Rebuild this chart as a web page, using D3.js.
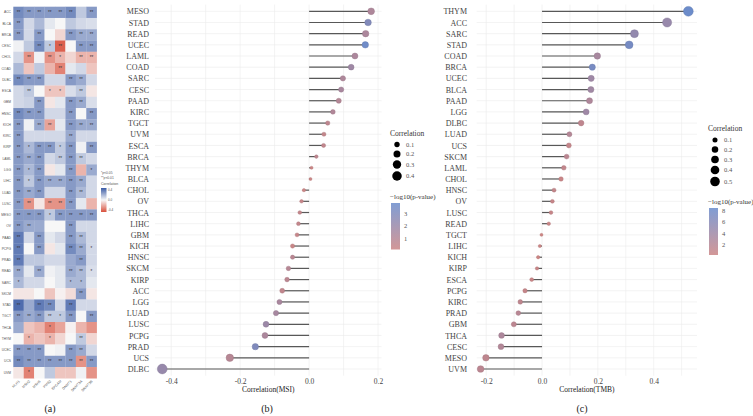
<!DOCTYPE html>
<html>
<head>
<meta charset="utf-8">
<script src="https://cdn.jsdelivr.net/npm/d3@7"></script>
<style>
  body { margin: 0; background: #fff; }
  svg { display: block; }
</style>
</head>
<body>
<svg id="chart" width="753" height="416"></svg>
<script>
// ---- Panel (a): heatmap data ----
const heatRows = ['ACC', 'BLCA', 'BRCA', 'CESC', 'CHOL', 'COAD', 'DLBC', 'ESCA', 'GBM', 'HNSC', 'KICH',
    'KIRC', 'KIRP', 'LAML', 'LGG', 'LIHC', 'LUAD', 'LUSC', 'MESO', 'OV', 'PAAD', 'PCPG', 'PRAD',
    'READ', 'SARC', 'SKCM', 'STAD', 'TGCT', 'THCA', 'THYM', 'UCEC', 'UCS', 'UVM'];
const heatCols = ['MLH1', 'MSH2', 'MSH6', 'PMS2', 'EPCAM', 'DNMT1', 'DNMT3A', 'DNMT3B'];
const heatValues = [
    [0.35, 0.3, 0.3, 0.3, 0.3, 0.35, 0.15, 0.3],
    [0.3, 0.1, 0.2, 0.05, 0.0, 0.15, 0.1, 0.08],
    [0.3, 0.1, 0.3, 0.0, -0.1, 0.3, 0.25, 0.25],
    [0.02, 0.15, 0.35, 0.15, -0.45, 0.0, 0.3, 0.3],
    [0.1, -0.3, 0.02, -0.3, -0.2, -0.1, -0.2, -0.2],
    [0.2, -0.15, 0.15, -0.2, -0.35, 0.05, 0.1, -0.15],
    [0.35, 0.3, 0.3, 0.1, 0.1, 0.3, 0.25, 0.1],
    [0.1, 0.15, 0.0, -0.15, -0.15, 0.08, 0.15, -0.05],
    [0.1, 0.12, 0.3, -0.05, 0.05, 0.3, 0.25, 0.08],
    [0.35, 0.3, 0.3, 0.1, 0.1, 0.3, 0.0, 0.3],
    [0.3, 0.02, 0.25, -0.25, 0.05, 0.3, 0.25, 0.25],
    [0.3, 0.1, 0.1, 0.1, 0.1, 0.25, 0.1, 0.1],
    [0.3, 0.2, 0.3, 0.3, 0.15, 0.3, 0.02, 0.3],
    [0.3, 0.25, 0.3, 0.1, 0.15, 0.3, 0.15, 0.1],
    [0.3, 0.2, 0.3, -0.05, 0.05, 0.3, -0.2, 0.25],
    [0.3, 0.15, 0.3, 0.25, 0.25, 0.3, 0.25, 0.1],
    [0.3, 0.25, 0.3, 0.1, 0.1, 0.3, 0.2, 0.1],
    [0.3, -0.3, -0.05, -0.3, -0.3, 0.3, 0.05, -0.2],
    [0.3, 0.3, 0.3, 0.15, 0.3, 0.3, 0.3, 0.3],
    [0.3, 0.25, 0.25, 0.0, 0.0, 0.3, 0.1, 0.1],
    [0.4, 0.1, 0.3, 0.05, 0.1, 0.3, 0.2, 0.1],
    [0.4, 0.0, 0.3, -0.05, 0.05, 0.35, 0.25, 0.1],
    [0.4, 0.15, 0.15, 0.1, 0.1, 0.25, 0.3, 0.1],
    [0.25, 0.05, 0.25, 0.02, 0.05, 0.25, 0.2, 0.08],
    [0.2, 0.1, 0.1, 0.0, 0.05, 0.2, 0.2, 0.05],
    [-0.05, -0.05, 0.0, -0.15, -0.02, -0.08, 0.3, -0.05],
    [0.45, 0.25, 0.4, 0.35, 0.1, 0.4, 0.1, 0.1],
    [0.3, 0.25, 0.3, 0.15, 0.15, 0.3, 0.0, 0.3],
    [0.25, -0.15, -0.2, -0.35, -0.25, -0.02, -0.2, -0.3],
    [0.0, -0.2, -0.15, -0.2, -0.1, 0.0, 0.15, -0.1],
    [0.3, 0.3, 0.3, 0.0, 0.02, 0.3, 0.25, 0.1],
    [0.35, 0.3, 0.3, 0.3, 0.3, 0.3, -0.3, 0.3],
    [-0.05, -0.35, 0.0, 0.15, -0.15, -0.15, 0.02, -0.3]
];
const heatSig = [
    ['**', '**', '**', '**', '**', '**', '', '**'],
    ['**', '', '', '', '', '', '', ''],
    ['**', '', '**', '', '', '**', '**', '**'],
    ['', '', '**', '*', '**', '', '**', '**'],
    ['', '**', '', '**', '*', '', '**', '**'],
    ['', '', '', '', '**', '', '', ''],
    ['**', '**', '**', '', '', '**', '**', ''],
    ['', '**', '', '*', '*', '', '**', ''],
    ['', '', '**', '', '', '**', '**', ''],
    ['**', '**', '**', '', '', '**', '', '**'],
    ['**', '', '**', '**', '', '**', '**', '**'],
    ['**', '', '', '', '', '**', '', ''],
    ['**', '*', '**', '**', '*', '**', '', '**'],
    ['**', '**', '**', '', '**', '**', '**', ''],
    ['**', '*', '**', '', '', '**', '', '*'],
    ['**', '*', '**', '**', '**', '**', '**', ''],
    ['**', '**', '**', '', '', '**', '**', ''],
    ['**', '**', '', '**', '**', '**', '', ''],
    ['**', '**', '**', '*', '**', '**', '**', '**'],
    ['**', '**', '', '', '', '**', '', ''],
    ['**', '', '**', '', '', '**', '**', ''],
    ['**', '', '**', '', '', '**', '**', '*'],
    ['**', '', '', '', '', '', '**', ''],
    ['**', '', '**', '', '', '**', '**', '*'],
    ['*', '', '', '', '', '*', '*', ''],
    ['', '', '', '', '', '', '**', ''],
    ['**', '', '**', '**', '', '**', '', ''],
    ['**', '**', '**', '**', '*', '**', '', '**'],
    ['', '', '', '*', '', '', '', ''],
    ['', '*', '', '*', '', '', '**', ''],
    ['**', '**', '**', '', '', '**', '**', ''],
    ['**', '**', '**', '**', '**', '**', '**', '**'],
    ['', '*', '', '', '', '', '', '']
];
const heatLegendTicks = [0.4, 0.0, -0.4];

// ---- Panel (b): correlation with MSI ----
const msiCancers = ['MESO', 'STAD', 'READ', 'UCEC', 'LAML', 'COAD', 'SARC', 'CESC', 'PAAD', 'KIRC', 'TGCT',
    'UVM', 'ESCA', 'BRCA', 'THYM', 'BLCA', 'CHOL', 'OV', 'THCA', 'LIHC', 'GBM', 'KICH', 'HNSC', 'SKCM',
    'KIRP', 'ACC', 'LGG', 'LUAD', 'LUSC', 'PCPG', 'PRAD', 'UCS', 'DLBC'];
const msiCor = [0.180, 0.171, 0.164, 0.163, 0.133, 0.122, 0.098, 0.093, 0.086, 0.069, 0.054,
    0.043, 0.042, 0.021, 0.007, 0.004, -0.015, -0.022, -0.027, -0.031, -0.035, -0.048, -0.048, -0.060,
    -0.064, -0.078, -0.086, -0.096, -0.125, -0.128, -0.156, -0.230, -0.426];
const msiLogP = [1.2, 2.9, 1.3, 3.6, 1.3, 1.8, 1.2, 1.4, 1.0, 1.1, 0.6,
    0.4, 0.5, 0.6, 0.1, 0.1, 0.1, 0.3, 0.4, 0.4, 0.3, 0.2, 0.8, 0.9,
    0.7, 0.5, 1.4, 1.5, 1.9, 1.3, 3.0, 0.9, 2.1];
const msiTicks = [-0.4, -0.2, 0.0, 0.2];
const msiSizeLegend = [0.1, 0.2, 0.3, 0.4];
const msiColorLegend = [1, 2, 3];

// ---- Panel (c): correlation with TMB ----
const tmbCancers = ['THYM', 'ACC', 'SARC', 'STAD', 'COAD', 'BRCA', 'UCEC', 'BLCA', 'PAAD', 'LGG', 'DLBC',
    'LUAD', 'UCS', 'SKCM', 'LAML', 'CHOL', 'HNSC', 'OV', 'LUSC', 'READ', 'TGCT', 'LIHC', 'KICH', 'KIRP',
    'ESCA', 'PCPG', 'KIRC', 'PRAD', 'GBM', 'THCA', 'CESC', 'MESO', 'UVM'];
const tmbCor = [0.524, 0.448, 0.331, 0.312, 0.198, 0.180, 0.176, 0.175, 0.170, 0.158, 0.140,
    0.098, 0.096, 0.088, 0.078, 0.068, 0.043, 0.037, 0.032, 0.024, -0.002, -0.008, -0.014, -0.018,
    -0.037, -0.061, -0.078, -0.085, -0.101, -0.145, -0.147, -0.201, -0.220];
const tmbLogP = [8.3, 4.6, 5.0, 7.5, 3.2, 7.3, 4.0, 3.8, 2.6, 4.0, 1.2,
    2.2, 0.8, 1.6, 1.0, 0.4, 0.8, 0.6, 0.6, 0.3, 0.02, 0.2, 0.1, 0.4,
    0.4, 0.7, 1.3, 1.8, 1.5, 2.8, 2.3, 1.3, 1.6];
const tmbTicks = [-0.2, 0.0, 0.2, 0.4];
const tmbSizeLegend = [0.1, 0.2, 0.3, 0.4, 0.5];
const tmbColorLegend = [2, 4, 6, 8];

const svg = d3.select('#chart');
const defs = svg.append('defs');
const serif = '"Liberation Serif", "Times New Roman", serif';
const sans = '"Liberation Sans", Arial, sans-serif';

// ================= Panel (a) =================
const heatColor = d3.scaleLinear()
    .domain([-0.5, 0, 0.5])
    .range(['#d9503c', '#f7f7f7', '#3c5ca6']);
const hx = d3.scaleBand().domain(heatCols).range([13.3, 96.7]);
const hy = d3.scaleBand().domain(heatRows).range([6.7, 378.3]);

const heat = svg.append('g');
heatRows.forEach((row, i) => {
    heatCols.forEach((col, j) => {
        heat.append('rect')
            .attr('x', hx(col))
            .attr('y', hy(row))
            .attr('width', hx.bandwidth() + 0.2)
            .attr('height', hy.bandwidth() + 0.2)
            .attr('fill', heatColor(heatValues[i][j]));
        if (heatSig[i][j]) {
            heat.append('text')
                .attr('x', hx(col) + hx.bandwidth() / 2)
                .attr('y', hy(row) + hy.bandwidth() / 2 + 1.6)
                .attr('text-anchor', 'middle')
                .style('font-family', sans)
                .style('font-size', '4.5px')
                .attr('fill', '#333')
                .text(heatSig[i][j]);
        }
    });
});
// Row and column labels.
heat.append('g').selectAll('text')
    .data(heatRows)
    .join('text')
        .attr('x', 11)
        .attr('y', d => hy(d) + hy.bandwidth() / 2 + 1)
        .attr('text-anchor', 'end')
        .style('font-family', sans)
        .style('font-size', '3.3px')
        .attr('fill', '#555')
        .text(d => d);
heat.append('g').selectAll('text')
    .data(heatCols)
    .join('text')
        .attr('transform', d => `translate(${hx(d) + hx.bandwidth() / 2 + 1.5},381.5)rotate(-45)`)
        .attr('text-anchor', 'end')
        .style('font-family', sans)
        .style('font-size', '3.5px')
        .attr('fill', '#555')
        .text(d => d);

// Heatmap legend.
const hl = svg.append('g').style('font-family', sans);
hl.append('text').attr('x', 101).attr('y', 174).style('font-size', '3.3px').attr('fill', '#555').text('*p<0.05');
hl.append('text').attr('x', 101).attr('y', 179).style('font-size', '3.3px').attr('fill', '#555').text('**p<0.01');
hl.append('text').attr('x', 101).attr('y', 185).style('font-size', '3.5px').attr('fill', '#555').text('Correlation');
const hGrad = defs.append('linearGradient')
    .attr('id', 'heatGrad').attr('x1', 0).attr('y1', 1).attr('x2', 0).attr('y2', 0);
d3.range(-0.5, 0.51, 0.1).forEach(v => {
    hGrad.append('stop').attr('offset', (v + 0.5) / 1.0).attr('stop-color', heatColor(v));
});
const hlScale = d3.scaleLinear().domain([-0.5, 0.5]).range([212, 188]);
hl.append('rect').attr('x', 101).attr('y', 188).attr('width', 5.5).attr('height', 24)
    .attr('fill', 'url(#heatGrad)');
hl.selectAll('.hlt')
    .data(heatLegendTicks)
    .join('text')
        .attr('x', 108)
        .attr('y', d => hlScale(d) + 1)
        .style('font-size', '3px')
        .attr('fill', '#555')
        .text(d => d.toFixed(1));
svg.append('text')
    .attr('x', 50).attr('y', 412)
    .attr('text-anchor', 'middle')
    .style('font-family', serif).style('font-size', '10px')
    .attr('fill', '#222')
    .text('(a)');

// ================= Lollipop panels =================
function sizeScale(vals, rMin, rMax) {
    const area = d3.scaleLinear()
        .domain(d3.extent(vals, v => Math.abs(v)))
        .range([rMin * rMin, rMax * rMax]);
    return v => Math.sqrt(Math.max(0.5, area(Math.abs(v))));
}

function drawLollipop(cfg) {
    const g = svg.append('g');
    const data = cfg.cats.map((c, i) => ({cat: c, cor: cfg.cors[i], p: cfg.logp[i]}));
    const x = d3.scaleLinear().domain(cfg.xDomain).range(cfg.xRange);
    const y = d3.scalePoint().domain(cfg.cats).range([11.3, 369]);
    const top = 4.6, bottom = 375.7;
    const color = d3.scaleLinear()
        .domain(cfg.colorDomain)
        .range(['#cb8585', '#6a8ccc']);
    const radius = sizeScale(cfg.cors, 1.5, 4.9);

    // Grid lines.
    const gridX = d3.range(-0.5, 0.61, 0.1).map(v => Math.round(v * 10) / 10)
        .filter(v => v >= cfg.xDomain[0] && v <= cfg.xDomain[1]);
    g.append('g').selectAll('line')
        .data(gridX)
        .join('line')
            .attr('x1', d => x(d)).attr('x2', d => x(d))
            .attr('y1', top).attr('y2', bottom)
            .attr('stroke', '#ebebeb').attr('stroke-width', 0.6);
    g.append('g').selectAll('line')
        .data(cfg.cats)
        .join('line')
            .attr('x1', cfg.xRange[0]).attr('x2', cfg.xRange[1])
            .attr('y1', d => y(d)).attr('y2', d => y(d))
            .attr('stroke', '#ebebeb').attr('stroke-width', 0.6);

    // Stems and dots.
    g.append('g').selectAll('line')
        .data(data)
        .join('line')
            .attr('x1', x(0)).attr('x2', d => x(d.cor))
            .attr('y1', d => y(d.cat)).attr('y2', d => y(d.cat))
            .attr('stroke', '#585858').attr('stroke-width', 1.2);
    g.append('g').selectAll('circle')
        .data(data)
        .join('circle')
            .attr('cx', d => x(d.cor))
            .attr('cy', d => y(d.cat))
            .attr('r', d => radius(d.cor))
            .attr('fill', d => color(d.p))
            .attr('stroke', d => d3.color(color(d.p)).darker(0.4))
            .attr('stroke-width', 0.4);

    // Axes.
    const xAxis = g.append('g')
        .attr('transform', `translate(0,${bottom})`)
        .call(d3.axisBottom(x).tickValues(cfg.ticks).tickSize(0).tickPadding(3)
            .tickFormat(d => d.toFixed(1)));
    xAxis.select('.domain').remove();
    xAxis.selectAll('text').style('font-family', serif).style('font-size', '7.5px').attr('fill', '#444');
    const yAxis = g.append('g')
        .attr('transform', `translate(${cfg.labelRight},0)`)
        .call(d3.axisLeft(y).tickSize(0).tickPadding(0));
    yAxis.select('.domain').remove();
    yAxis.selectAll('text').style('font-family', serif).style('font-size', '8px').attr('fill', '#444');

    g.append('text')
        .attr('x', (cfg.xRange[0] + cfg.xRange[1]) / 2).attr('y', 392)
        .attr('text-anchor', 'middle')
        .style('font-family', serif).style('font-size', '7.5px').attr('fill', '#222')
        .text(cfg.title);
    g.append('text')
        .attr('x', cfg.captionX).attr('y', 412)
        .attr('text-anchor', 'middle')
        .style('font-family', serif).style('font-size', '10px').attr('fill', '#222')
        .text(cfg.caption);

    // Legends.
    const lg = cfg.legend;
    const leg = g.append('g').style('font-family', serif);
    leg.append('text').attr('x', lg.x).attr('y', lg.titleY)
        .style('font-size', '7.5px').attr('fill', '#333').text('Correlation');
    leg.selectAll('circle')
        .data(cfg.sizeLegend)
        .join('circle')
            .attr('cx', lg.x + 7)
            .attr('cy', (d, i) => lg.sizeY[i])
            .attr('r', d => radius(d))
            .attr('fill', '#000');
    leg.selectAll('.slab')
        .data(cfg.sizeLegend)
        .join('text')
            .attr('x', lg.x + 16)
            .attr('y', (d, i) => lg.sizeY[i] + 2.3)
            .style('font-size', '6.5px').attr('fill', '#555')
            .text(d => d.toFixed(1));
    leg.append('text').attr('x', lg.x).attr('y', lg.cbTitleY)
        .style('font-size', '7px').attr('fill', '#333').text('\u2212log10(p-value)');
    const gradId = 'grad' + cfg.caption.replace(/\W/g, '');
    const grad = defs.append('linearGradient')
        .attr('id', gradId).attr('x1', 0).attr('y1', 1).attr('x2', 0).attr('y2', 0);
    grad.append('stop').attr('offset', 0).attr('stop-color', color(cfg.colorDomain[0]));
    grad.append('stop').attr('offset', 1).attr('stop-color', color(cfg.colorDomain[1]));
    leg.append('rect')
        .attr('x', lg.x + 1).attr('y', lg.cbTop)
        .attr('width', 9).attr('height', lg.cbBottom - lg.cbTop)
        .attr('fill', `url(#${gradId})`).attr('opacity', 0.85);
    const cb = d3.scaleLinear().domain(cfg.colorDomain).range([lg.cbBottom, lg.cbTop]);
    leg.selectAll('.clab')
        .data(cfg.colorLegend)
        .join('text')
            .attr('x', lg.x + 14)
            .attr('y', d => cb(d) + 2.3)
            .style('font-size', '6.5px').attr('fill', '#555')
            .text(d => d);
}

drawLollipop({
    cats: msiCancers, cors: msiCor, logp: msiLogP,
    xDomain: [-0.447, 0.21], xRange: [155, 381.5], labelRight: 149,
    ticks: msiTicks, colorDomain: [0.1, 3.83],
    title: 'Correlation(MSI)', caption: '(b)', captionX: 267,
    sizeLegend: msiSizeLegend, colorLegend: msiColorLegend,
    legend: {x: 390, titleY: 136, sizeY: [144.5, 154, 164.5, 176], cbTitleY: 199, cbTop: 203, cbBottom: 249.5}
});

drawLollipop({
    cats: tmbCancers, cors: tmbCor, logp: tmbLogP,
    xDomain: [-0.234, 0.555], xRange: [476.7, 697], labelRight: 467,
    ticks: tmbTicks, colorDomain: [0.2, 8.5],
    title: 'Correlation(TMB)', caption: '(c)', captionX: 582,
    sizeLegend: tmbSizeLegend, colorLegend: tmbColorLegend,
    legend: {x: 708, titleY: 131, sizeY: [140, 149.5, 159.5, 170, 181.5], cbTitleY: 204, cbTop: 208, cbBottom: 255}
});
</script>
</body>
</html>
